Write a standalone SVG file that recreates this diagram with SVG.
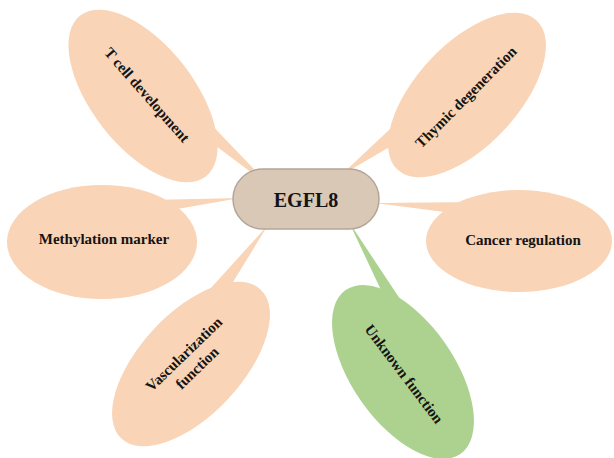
<svg xmlns="http://www.w3.org/2000/svg" width="614" height="458" viewBox="0 0 614 458">
<style>
.peach{fill:#f9d4b6;}
.green{fill:#add290;}
.pill{fill:#dac8b7;stroke:#b3a698;stroke-width:1.5;}
.lbl{font-family:"Liberation Serif","Times New Roman",serif;font-weight:bold;font-size:15px;fill:#141414;text-anchor:middle;dominant-baseline:central;}
.big{font-size:20px;}
</style>
<rect width="614" height="458" fill="#ffffff"/>
<g id="connectors">
<polygon class="peach" points="272,188 205,118 208,140"/>
<polygon class="peach" points="340,176 405,115 410,135"/>
<polygon class="peach" points="240,198 150,200 160,212"/>
<polygon class="peach" points="375,203 480,202 460,214"/>
<polygon class="peach" points="268,225 200,300 222,300"/>
<polygon class="green" points="349,222 388,305 404,305"/>
</g>
<g id="t-cell-development">
<ellipse class="peach" cx="143" cy="96" rx="102" ry="51" transform="rotate(52 143 96)"/>
<text class="lbl" x="147" y="95" transform="rotate(48.6 147 95)">T cell development</text>
</g>
<g id="thymic-degeneration">
<ellipse class="peach" cx="467" cy="95" rx="102" ry="51" transform="rotate(-47 467 95)"/>
<text class="lbl" x="466" y="97" transform="rotate(-45 466 97)">Thymic degeneration</text>
</g>
<g id="methylation-marker">
<ellipse class="peach" cx="102" cy="242" rx="95" ry="57"/>
<text class="lbl" x="104" y="239">Methylation marker</text>
</g>
<g id="cancer-regulation">
<ellipse class="peach" cx="519" cy="241" rx="93" ry="51"/>
<text class="lbl" x="523" y="240">Cancer regulation</text>
</g>
<g id="vascularization-function">
<ellipse class="peach" cx="191" cy="364" rx="102" ry="51" transform="rotate(-47 191 364)"/>
<text class="lbl" transform="rotate(-44 190.5 361)"><tspan x="190.5" y="351.5">Vascularization</tspan><tspan x="190.5" y="370.5">function</tspan></text>
</g>
<g id="unknown-function">
<ellipse class="green" cx="403" cy="372" rx="100" ry="51" transform="rotate(55 403 372)"/>
<text class="lbl" x="404" y="374" transform="rotate(53 404 374)">Unknown function</text>
</g>
<g id="egfl8">
<rect class="pill" x="233" y="169" width="146" height="60" rx="30" ry="30"/>
<text class="lbl big" x="306" y="200">EGFL8</text>
</g>
</svg>
